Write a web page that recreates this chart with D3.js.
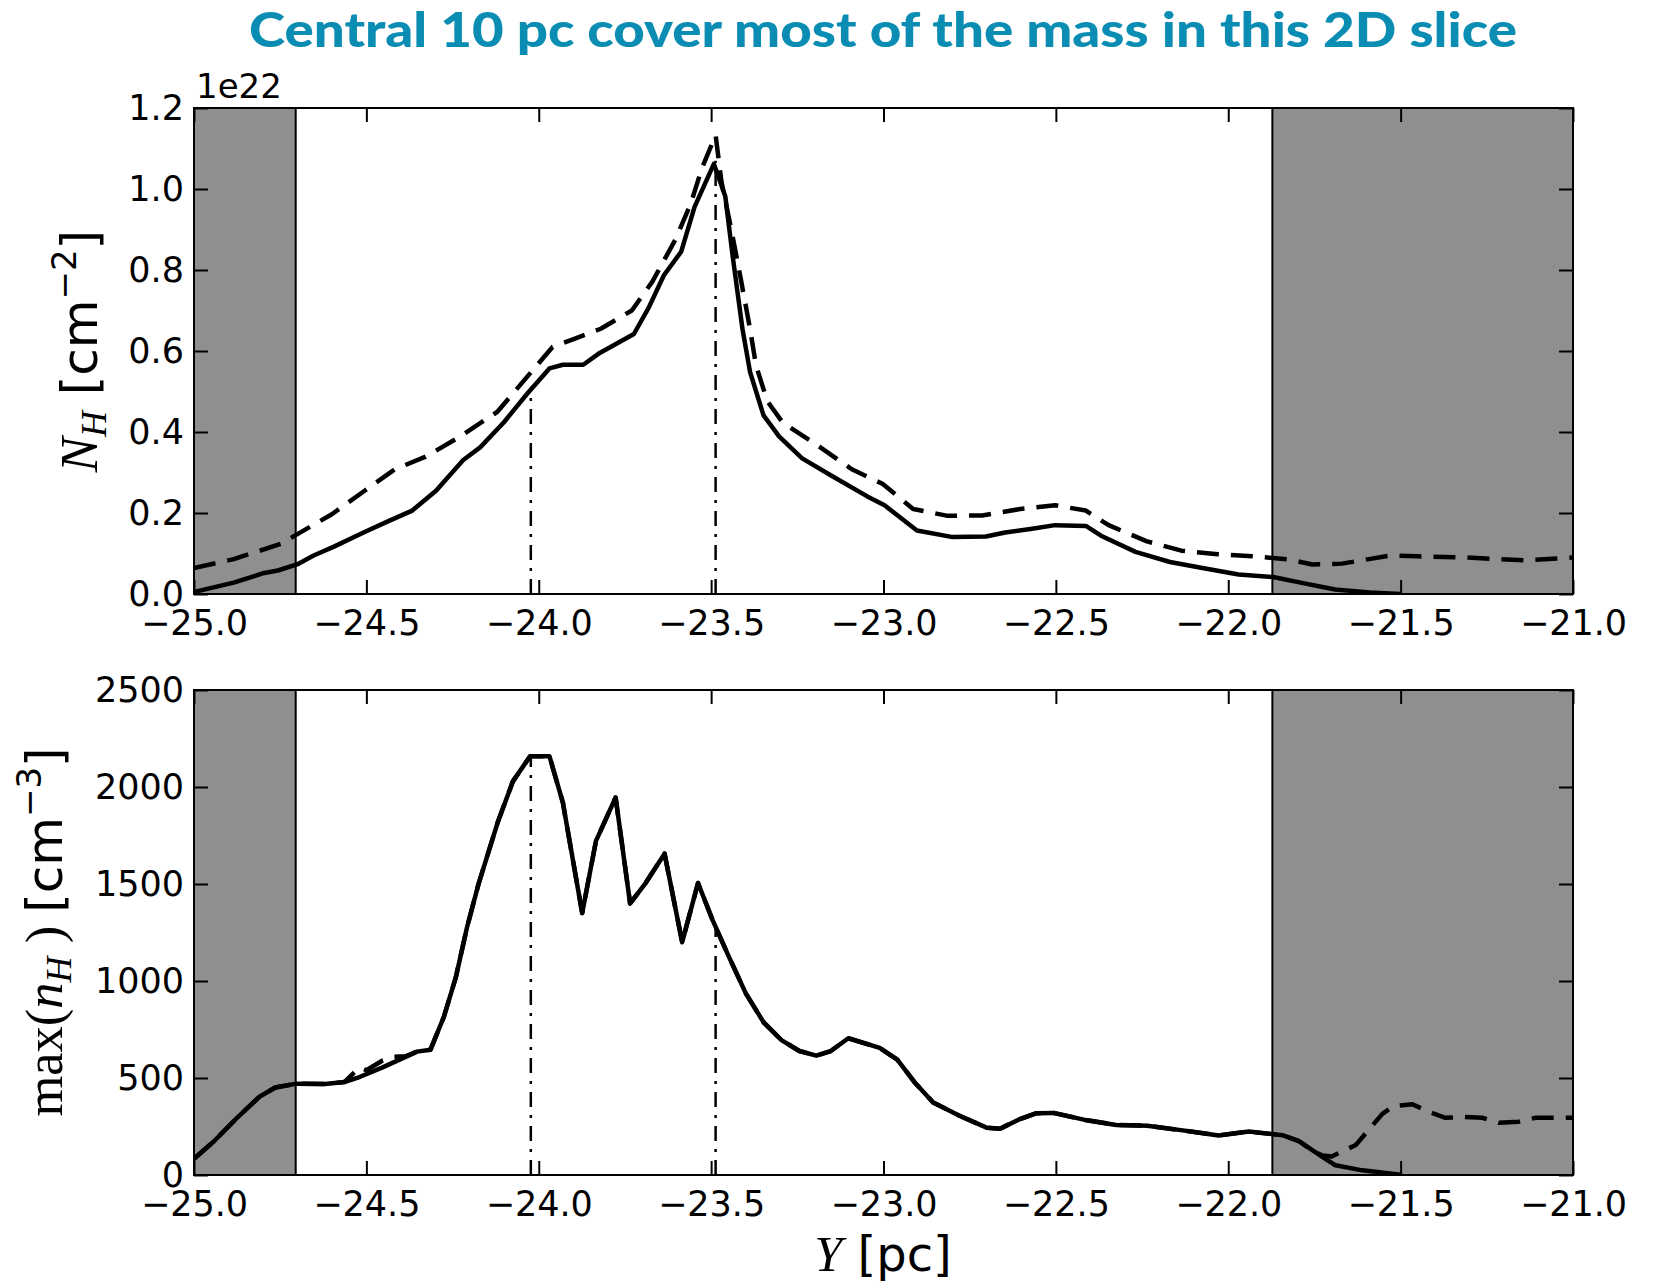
<!DOCTYPE html>
<html><head><meta charset="utf-8">
<script src="https://cdn.jsdelivr.net/npm/d3@7"></script>
<style>body{margin:0;background:#fff}</style>
</head><body>
<svg id="c" width="1667" height="1281" xmlns="http://www.w3.org/2000/svg"></svg>
<script>
// ---------- data ----------
const titleText = "Central 10 pc cover most of the mass in this 2D slice";
const xTicks = [-25, -24.5, -24, -23.5, -23, -22.5, -22, -21.5, -21];
const xTickLabels = ["−25.0","−24.5","−24.0","−23.5","−23.0","−22.5","−22.0","−21.5","−21.0"];
const topTicks = [0, 0.2, 0.4, 0.6, 0.8, 1.0, 1.2];
const topTickLabels = ["0.0","0.2","0.4","0.6","0.8","1.0","1.2"];
const botTicks = [0, 500, 1000, 1500, 2000, 2500];
const botTickLabels = ["0","500","1000","1500","2000","2500"];
const offsetLabel = "1e22";
const shadeRanges = [[-25, -24.705], [-21.872, -21]];
const markerY = [-24.023, -23.487];
const markerTopN = [0.49, 1.07];
const markerBotN = [2150, 1270];

// top panel: column density (units of 1e22 cm^-2)
const topSolidY = [-25.0,-24.885,-24.796,-24.757,-24.701,-24.653,-24.594,-24.505,-24.436,-24.367,-24.298,-24.219,-24.17,-24.101,-24.033,-23.969,-23.93,-23.871,-23.827,-23.724,-23.681,-23.637,-23.587,-23.548,-23.492,-23.459,-23.437,-23.409,-23.387,-23.348,-23.303,-23.236,-23.147,-23.047,-22.997,-22.903,-22.803,-22.703,-22.647,-22.569,-22.502,-22.413,-22.369,-22.269,-22.169,-22.075,-21.97,-21.87,-21.79,-21.69,-21.59,-21.5];
const topSolidN = [0.005,0.028,0.052,0.058,0.073,0.095,0.117,0.153,0.18,0.206,0.255,0.331,0.362,0.424,0.495,0.557,0.566,0.566,0.593,0.642,0.707,0.787,0.845,0.956,1.062,0.982,0.831,0.654,0.548,0.441,0.389,0.335,0.29,0.241,0.219,0.157,0.141,0.142,0.152,0.161,0.17,0.168,0.144,0.104,0.079,0.064,0.048,0.042,0.028,0.011,0.004,0.0];
const topDashY = [-25.0,-24.885,-24.747,-24.7,-24.6,-24.505,-24.417,-24.328,-24.23,-24.12,-24.04,-23.96,-23.893,-23.82,-23.73,-23.67,-23.603,-23.559,-23.526,-23.487,-23.47,-23.442,-23.414,-23.387,-23.37,-23.337,-23.292,-23.181,-23.092,-23.003,-22.914,-22.814,-22.714,-22.603,-22.502,-22.413,-22.347,-22.236,-22.136,-22.03,-21.93,-21.83,-21.756,-21.67,-21.53,-21.45,-21.31,-21.14,-21.0];
const topDashN = [0.064,0.086,0.124,0.148,0.197,0.255,0.308,0.339,0.388,0.45,0.53,0.61,0.631,0.655,0.7,0.772,0.876,0.964,1.053,1.133,1.018,0.902,0.778,0.654,0.565,0.476,0.423,0.361,0.308,0.272,0.21,0.193,0.194,0.21,0.219,0.206,0.17,0.13,0.107,0.098,0.093,0.086,0.073,0.075,0.095,0.093,0.09,0.083,0.09];

// bottom panel: max density (cm^-3)
const botSolidY = [-25.0,-24.942,-24.875,-24.809,-24.764,-24.703,-24.62,-24.564,-24.52,-24.453,-24.386,-24.353,-24.314,-24.275,-24.241,-24.208,-24.175,-24.119,-24.075,-24.025,-23.969,-23.93,-23.874,-23.834,-23.777,-23.735,-23.69,-23.635,-23.584,-23.538,-23.496,-23.451,-23.399,-23.347,-23.296,-23.244,-23.195,-23.153,-23.102,-23.011,-22.96,-22.908,-22.856,-22.778,-22.701,-22.662,-22.61,-22.558,-22.507,-22.416,-22.325,-22.235,-22.132,-22.028,-21.94,-21.878,-21.843,-21.795,-21.727,-21.689,-21.611,-21.5];
const botSolidN = [84,174,295,405,451,471,469,479,505,555,609,636,646,816,1016,1277,1498,1818,2029,2159,2159,1919,1350,1722,1946,1400,1505,1656,1200,1505,1315,1135,935,785,695,639,615,639,705,655,595,474,374,304,244,238,284,318,320,284,258,254,230,204,224,212,205,175,94,50,24,2];
const botDashY = [-25.0,-24.942,-24.875,-24.809,-24.764,-24.703,-24.62,-24.564,-24.52,-24.5,-24.453,-24.42,-24.386,-24.353,-24.314,-24.275,-24.241,-24.208,-24.175,-24.119,-24.075,-24.025,-23.969,-23.93,-23.874,-23.834,-23.777,-23.735,-23.69,-23.635,-23.584,-23.538,-23.496,-23.451,-23.399,-23.347,-23.296,-23.244,-23.195,-23.153,-23.102,-23.011,-22.96,-22.908,-22.856,-22.778,-22.701,-22.662,-22.61,-22.558,-22.507,-22.416,-22.325,-22.235,-22.132,-22.028,-21.94,-21.878,-21.843,-21.795,-21.76,-21.727,-21.7,-21.63,-21.553,-21.52,-21.466,-21.418,-21.37,-21.32,-21.263,-21.215,-21.157,-21.108,-21.0];
const botDashN = [84,174,295,405,451,471,469,479,555,540,590,610,612,636,646,816,1016,1277,1498,1818,2029,2159,2159,1919,1350,1722,1946,1400,1505,1656,1200,1505,1315,1135,935,785,695,639,615,639,705,655,595,474,374,304,244,238,284,318,320,284,258,254,230,204,224,212,205,175,130,100,95,155,315,355,365,325,295,299,295,269,275,295,295];

// ---------- layout ----------
const svg = d3.select("#c");
const X0 = 194, X1 = 1573;
const panels = [
  {top:108, bottom:594, domain:[0,1.2], ticks:topTicks, labels:topTickLabels,
   solid:[topSolidY, topSolidN], dash:[topDashY, topDashN], markers:markerTopN, id:"p1"},
  {top:690, bottom:1175, domain:[0,2500], ticks:botTicks, labels:botTickLabels,
   solid:[botSolidY, botSolidN], dash:[botDashY, botDashN], markers:markerBotN, id:"p2"}
];
const x = d3.scaleLinear().domain([-25, -21]).range([X0, X1]);
const tickFont = "'DejaVu Sans', sans-serif";

svg.append("rect").attr("width",1667).attr("height",1281).attr("fill","#fff");

panels.forEach(p => {
  const y = d3.scaleLinear().domain(p.domain).range([p.bottom, p.top]);
  const g = svg.append("g");
  g.append("clipPath").attr("id","clip-"+p.id).append("rect")
    .attr("x",X0).attr("y",p.top).attr("width",X1-X0).attr("height",p.bottom-p.top);

  shadeRanges.forEach(r => {
    g.append("rect").attr("x",x(r[0])).attr("y",p.top)
      .attr("width",x(r[1])-x(r[0])).attr("height",p.bottom-p.top)
      .attr("fill","#8f8f8f").attr("stroke","#000").attr("stroke-width",2);
  });

  const plot = g.append("g").attr("clip-path","url(#clip-"+p.id+")");
  markerY.forEach((m,i) => {
    plot.append("line").attr("x1",x(m)).attr("x2",x(m))
      .attr("y1",y(0)).attr("y2",y(p.markers[i]))
      .attr("stroke","#000").attr("stroke-width",2.5)
      .attr("stroke-dasharray","15,8,3,8");
  });

  const line = d3.line().x(d=>x(d[0])).y(d=>y(d[1]));
  const solidPts = p.solid[0].map((v,i)=>[v,p.solid[1][i]]);
  const dashPts = p.dash[0].map((v,i)=>[v,p.dash[1][i]]);
  plot.append("path").attr("d",line(solidPts)).attr("fill","none")
    .attr("stroke","#000").attr("stroke-width",4.5).attr("stroke-linejoin","round");
  plot.append("path").attr("d",line(dashPts)).attr("fill","none")
    .attr("stroke","#000").attr("stroke-width",4.5).attr("stroke-linejoin","round")
    .attr("stroke-dasharray","22,12");

  const gb = g.append("g").attr("transform",`translate(0,${p.bottom})`)
    .call(d3.axisBottom(x).tickValues(xTicks).tickFormat((d,i)=>xTickLabels[i]).tickSize(-14).tickPadding(16));
  const gt = g.append("g").attr("transform",`translate(0,${p.top})`)
    .call(d3.axisTop(x).tickValues(xTicks).tickFormat("").tickSize(-14));
  const gl = g.append("g").attr("transform",`translate(${X0},0)`)
    .call(d3.axisLeft(y).tickValues(p.ticks).tickFormat((d,i)=>p.labels[i]).tickSize(-14).tickPadding(10));
  const gr = g.append("g").attr("transform",`translate(${X1},0)`)
    .call(d3.axisRight(y).tickValues(p.ticks).tickFormat("").tickSize(-14));
  [gb,gt,gl,gr].forEach(a => {
    a.select(".domain").remove();
    a.selectAll(".tick line").attr("stroke","#000").attr("stroke-width",2);
    a.selectAll(".tick text").attr("fill","#000").style("font-family",tickFont).style("font-size","35px");
  });
  g.append("rect").attr("x",X0).attr("y",p.top).attr("width",X1-X0).attr("height",p.bottom-p.top)
    .attr("fill","none").attr("stroke","#000").attr("stroke-width",2);
});

svg.append("text").attr("x",196).attr("y",98).text(offsetLabel)
  .style("font-family",tickFont).style("font-size","34px").attr("fill","#000");

// title
svg.append("text").attr("x",883).attr("y",47).attr("text-anchor","middle")
  .attr("fill","#0b8db3").style("font-family","Lato, 'Open Sans', sans-serif")
  .style("font-weight","900").style("font-size","48px")
  .attr("textLength",1268).attr("lengthAdjust","spacingAndGlyphs").text(titleText);

// axis labels
const serif = "'Liberation Serif', 'DejaVu Serif', serif";
function label(tx, ty, rot, fs, parts){
  const t = svg.append("text").attr("transform",`translate(${tx},${ty}) rotate(${rot})`)
    .attr("text-anchor","middle").attr("fill","#000");
  let shift = 0;
  parts.forEach(pt => {
    const s = t.append("tspan").text(pt.t)
      .style("font-family", pt.f).style("font-size", ((pt.s||1)*fs)+"px")
      .style("font-style", pt.i ? "italic" : "normal");
    const target = (pt.b || 0)*fs;
    s.attr("dy", target - shift); shift = target;
  });
  return t;
}
label(97, 351, -90, 50, [
  {t:"N", f:serif, i:true, s:1.05},
  {t:"H", f:serif, i:true, s:0.72, b:0.18},
  {t:"  [cm", f:tickFont},
  {t:"−2", f:tickFont, s:0.68, b:-0.42},
  {t:"]", f:tickFont}
]);
label(62, 932, -90, 50, [
  {t:"max(", f:serif, s:1.05},
  {t:"n", f:serif, i:true, s:1.05},
  {t:"H", f:serif, i:true, s:0.72, b:0.18},
  {t:" ) ", f:serif, s:1.05},
  {t:"[cm", f:tickFont},
  {t:"−3", f:tickFont, s:0.68, b:-0.42},
  {t:"]", f:tickFont}
]);
label(883, 1271, 0, 48, [
  {t:"Y", f:serif, i:true, s:1.05},
  {t:" [pc]", f:tickFont}
]);
</script>
</body></html>
